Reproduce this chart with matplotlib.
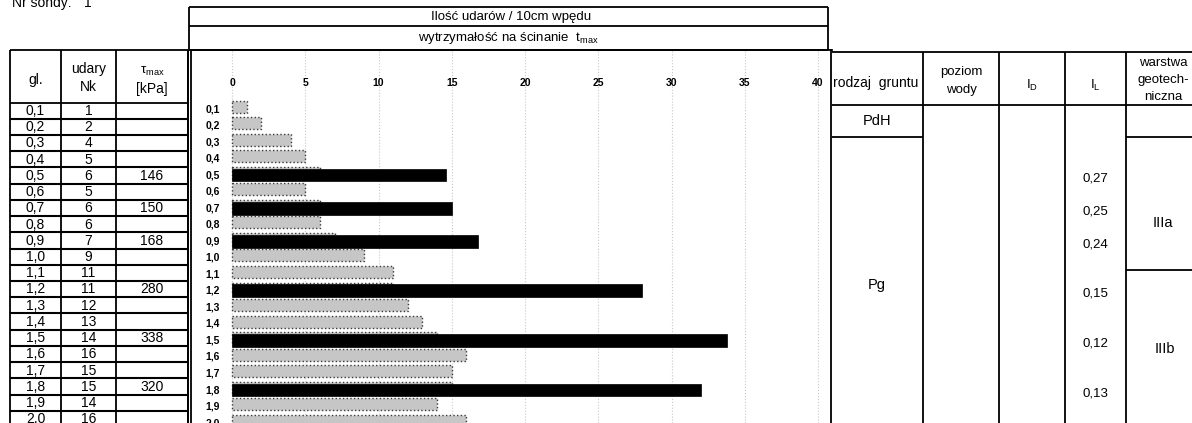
import matplotlib
matplotlib.use("Agg")
import matplotlib.pyplot as plt

plt.rcParams['font.family'] = ['Liberation Sans', 'DejaVu Sans']
plt.rcParams['mathtext.fontset'] = 'custom'
plt.rcParams['mathtext.rm'] = 'Liberation Sans'
plt.rcParams['mathtext.it'] = 'Liberation Sans:italic'

# ---------------- data ----------------
depths = [0.1, 0.2, 0.3, 0.4, 0.5, 0.6, 0.7, 0.8, 0.9, 1.0,
          1.1, 1.2, 1.3, 1.4, 1.5, 1.6, 1.7, 1.8, 1.9, 2.0]
depth_labels = ['0,1', '0,2', '0,3', '0,4', '0,5', '0,6', '0,7', '0,8', '0,9', '1,0',
                '1,1', '1,2', '1,3', '1,4', '1,5', '1,6', '1,7', '1,8', '1,9', '2,0']
blows_nk = [1, 2, 4, 5, 6, 5, 6, 6, 7, 9, 11, 11, 12, 13, 14, 16, 15, 15, 14, 16]
tau_depths = [0.5, 0.7, 0.9, 1.2, 1.5, 1.8]
tau_max = [146, 150, 168, 280, 338, 320]
x_ticks = [0, 5, 10, 15, 20, 25, 30, 35, 40]
il_values = ['0,27', '0,25', '0,24', '0,15', '0,12', '0,13']
il_depths = [0.5, 0.7, 0.9, 1.2, 1.5, 1.8]

W, H = 1192, 423
fig = plt.figure(figsize=(W / 100, H / 100), dpi=100)
fig.patch.set_facecolor('white')

# overlay axes in pixel coordinates for the form / tables
ov = fig.add_axes([0, 0, 1, 1])
ov.set_xlim(0, W)
ov.set_ylim(H, 0)
ov.axis('off')
ov.set_zorder(0)

LW = 1.3
def hline(y, x0, x1, lw=LW):
    ov.plot([x0, x1], [y, y], color='black', lw=lw, solid_capstyle='butt')
def vline(x, y0, y1, lw=LW):
    ov.plot([x, x], [y0, y1], color='black', lw=lw, solid_capstyle='butt')

TS = 10  # table text size

# title fragment (cut at the top, as in the scanned form)
ov.text(12, 7, 'Nr sondy:', fontsize=10, va='baseline', ha='left')
ov.text(84, 7, '1', fontsize=10, va='baseline', ha='left')

# ---------- left table ----------
lx = [10, 61, 116, 188]
top_l, head_l = 50, 103
for x in lx:
    vline(x, top_l, H)
hline(top_l, lx[0], lx[-1])
hline(head_l, lx[0], lx[-1])
row_pitch = 16.22
row0 = 102.6
for i in range(1, len(depths)):
    hline(row0 + row_pitch * i, lx[0], lx[-1], lw=1.5)

ov.text((lx[0] + lx[1]) / 2, 80, 'gl.', fontsize=TS, ha='center', va='center')
ov.text((lx[1] + lx[2]) / 2, 69, 'udary', fontsize=TS, ha='center', va='center')
ov.text((lx[1] + lx[2]) / 2, 87, 'Nk', fontsize=TS, ha='center', va='center')
ov.text((lx[2] + lx[3]) / 2, 71, r'$\mathregular{\tau_{max}}$', fontsize=9.5, ha='center', va='center')
ov.text((lx[2] + lx[3]) / 2, 89, '[kPa]', fontsize=TS, ha='center', va='center')

for i, (lab, nk) in enumerate(zip(depth_labels, blows_nk)):
    yc = row0 + row_pitch * i + row_pitch / 2 + 0.3
    ov.text((lx[0] + lx[1]) / 2, yc, lab, fontsize=TS, ha='center', va='center')
    ov.text((lx[1] + lx[2]) / 2, yc, str(nk), fontsize=TS, ha='center', va='center')
    if depths[i] in tau_depths:
        t = tau_max[tau_depths.index(depths[i])]
        ov.text((lx[2] + lx[3]) / 2, yc, str(t), fontsize=TS, ha='center', va='center')

# ---------- chart header ----------
hx0, hx1 = 189, 828
hline(7, hx0, hx1)
hline(26, hx0, hx1)
hline(50, hx0, hx1)
vline(hx0, 7, 50)
vline(hx1, 7, 50)
ov.text((hx0 + hx1) / 2 + 3, 17, 'Ilość udarów / 10cm wpędu', fontsize=9.5, ha='center', va='center')
ov.text((hx0 + hx1) / 2, 38, r'wytrzymałość na ścinanie  t$_{\mathregular{max}}$',
        fontsize=9.5, ha='center', va='center')
vline(188, 50, H)

# ---------- right table ----------
rx = [831.5, 923, 999, 1065, 1126]
top_r, head_r = 52, 105
for x in rx[1:]:
    vline(x, top_r, H)
hline(top_r, rx[0], W)
hline(head_r, rx[0], W)
hline(137, rx[0], rx[1])
hline(137, rx[4], W)
hline(270, rx[4], W)

ov.text(876, 83, 'rodzaj  gruntu', fontsize=10, ha='center', va='center', zorder=0)
ov.text((rx[1] + rx[2]) / 2, 72, 'poziom', fontsize=9.5, ha='center', va='center')
ov.text((rx[1] + rx[2]) / 2, 90, 'wody', fontsize=9.5, ha='center', va='center')
ov.text((rx[2] + rx[3]) / 2, 85, r'I$_\mathregular{D}$', fontsize=9.5, ha='center', va='center')
ov.text((rx[3] + rx[4]) / 2, 85, r'I$_\mathregular{L}$', fontsize=9.5, ha='center', va='center')
ov.text(1163, 63, 'warstwa', fontsize=9.5, ha='center', va='center')
ov.text(1163, 80.5, 'geotech-', fontsize=9.5, ha='center', va='center')
ov.text(1163, 97.5, 'niczna', fontsize=9.5, ha='center', va='center')
ov.text(877, 121, 'PdH', fontsize=10.5, ha='center', va='center')
ov.text(877, 285, 'Pg', fontsize=10.5, ha='center', va='center')
ov.text(1163, 223, 'IIIa', fontsize=10.5, ha='center', va='center')
ov.text(1165, 349, 'IIIb', fontsize=10.5, ha='center', va='center')

# ---------- bar chart ----------
ax_left, ax_right, ax_top = 191, 831.5, 50
ax = fig.add_axes([ax_left / W, 0, (ax_right - ax_left) / W, (H - ax_top) / H])
ax.set_zorder(1)
ax.patch.set_alpha(0)
x0_px, unit = 232.0, 14.65
ax.set_xlim((ax_left - x0_px) / unit, (ax_right - x0_px) / unit)
ypitch = 165.3  # px per 1.0 depth
ax.set_ylim(0.1 + (H - 108) / ypitch, 0.1 + (ax_top - 108) / ypitch)

# I_L values placed on the chart's depth scale
for v, d in zip(il_values, il_depths):
    y_px = 108 + (d - 0.1) * ypitch + 4
    ov.text((rx[3] + rx[4]) / 2, y_px, v, fontsize=9.5, ha='center', va='center')

ax.barh([d - 0.008 for d in depths], blows_nk, height=0.072, left=0,
        color='#c6c6c6', edgecolor='#3a3a3a', linestyle=':', linewidth=1.0, zorder=2)
ax.barh([d + 0.006 for d in tau_depths], [t / 10 for t in tau_max], height=0.077,
        left=0, color='black', edgecolor='black', linewidth=0.5, zorder=3)

ax.set_xticks(x_ticks)
ax.set_xticklabels([str(t) for t in x_ticks])
ax.xaxis.tick_top()
ax.tick_params(axis='x', length=0, pad=-27, labelsize=7.5)
for lab in ax.get_xticklabels():
    lab.set_fontweight('bold')
ax.set_yticks(depths)
ax.set_yticklabels(depth_labels)
ax.tick_params(axis='y', length=0, pad=-21, labelsize=7.5)
for lab in ax.get_yticklabels():
    lab.set_fontweight('bold')
    lab.set_horizontalalignment('right')

ax.grid(axis='x', color='#c8c8c8', linestyle=':', linewidth=0.8, zorder=0)
ax.set_axisbelow(True)
for s in ['left', 'right', 'top']:
    ax.spines[s].set_linewidth(LW)
    ax.spines[s].set_color('black')
ax.spines['bottom'].set_visible(False)

fig.savefig('out.png', dpi=100, facecolor='white')
